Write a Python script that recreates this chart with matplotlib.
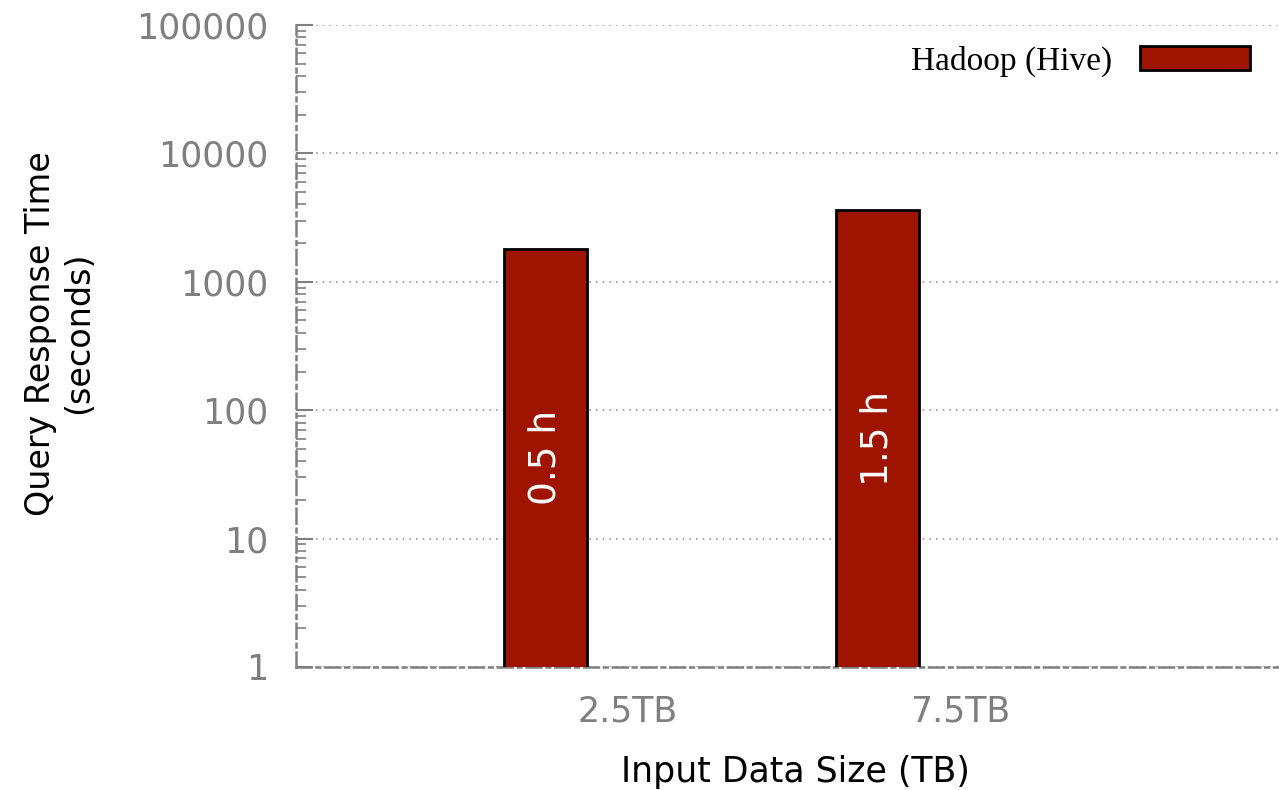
import matplotlib
matplotlib.use('Agg')
import matplotlib.pyplot as plt
from matplotlib.patches import Patch
from matplotlib import ticker
import numpy as np

# data
sizes = ['2.5TB', '7.5TB']
hive_seconds = [1800, 3600]
bar_labels = ['0.5 h', '1.5 h']

bar_color = '#9e1400'
grey = '#7f7f7f'

fig = plt.figure(figsize=(12.79, 7.90), dpi=100)
ax = fig.add_axes([0.2314, 0.1557, 0.7686, 0.8127])

x = np.arange(len(sizes))
bar_w = 0.25
bars = ax.bar(x - bar_w, hive_seconds, width=bar_w, color=bar_color,
              edgecolor='black', linewidth=2, zorder=3)

# labels inside bars, centred on log scale
for xi, v, t in zip(x, hive_seconds, bar_labels):
    ax.text(xi - bar_w, np.sqrt(v), t, rotation=90, ha='center', va='center',
            color='white', fontsize=27, zorder=4)

ax.set_yscale('log')
ax.set_ylim(1, 100000)
ax.set_xlim(-1, 1.96)

ax.yaxis.set_major_locator(ticker.LogLocator(base=10, numticks=10))
ax.yaxis.set_minor_locator(ticker.LogLocator(base=10, subs=np.arange(2, 10), numticks=50))
ax.yaxis.set_major_formatter(ticker.FuncFormatter(lambda v, p: f'{int(round(v))}'))
ax.yaxis.set_minor_formatter(ticker.NullFormatter())

ax.set_xticks(x)
ax.set_xticklabels(sizes)

ax.tick_params(axis='y', which='major', direction='in', length=12, width=1.5,
               color=grey, labelcolor=grey, labelsize=25, pad=20)
ax.tick_params(axis='y', which='minor', direction='in', length=7, width=1.2,
               color=grey)
ax.tick_params(axis='x', length=0, labelcolor=grey, labelsize=25, pad=20)

ax.grid(True, axis='y', which='major', linestyle=(0, (1, 3)),
        color='#999999', linewidth=1.2, zorder=1)

for s in ['top', 'right']:
    ax.spines[s].set_visible(False)
for s in ['left', 'bottom']:
    ax.spines[s].set_color(grey)
    ax.spines[s].set_linewidth(1.8)
    ax.spines[s].set_linestyle((0, (6, 2, 1.5, 2)))

ax.set_ylabel('Query Response Time\n(seconds)', fontsize=24, linespacing=1.2)
ax.yaxis.set_label_coords(-0.204, 0.52)
ax.set_xlabel('Input Data Size (TB)', fontsize=25)
ax.xaxis.set_label_coords(0.5076, -0.137)

handle = Patch(facecolor=bar_color, edgecolor='black', linewidth=2,
               label='Hadoop (Hive)')
ax.legend(handles=[handle], loc='upper right', bbox_to_anchor=(0.9705, 0.968),
          frameon=False, markerfirst=False, borderpad=0, borderaxespad=0,
          handlelength=3.3, handleheight=0.7, handletextpad=0.85,
          prop={'family': 'Liberation Serif', 'size': 24})

fig.savefig('out.png', dpi=100)
